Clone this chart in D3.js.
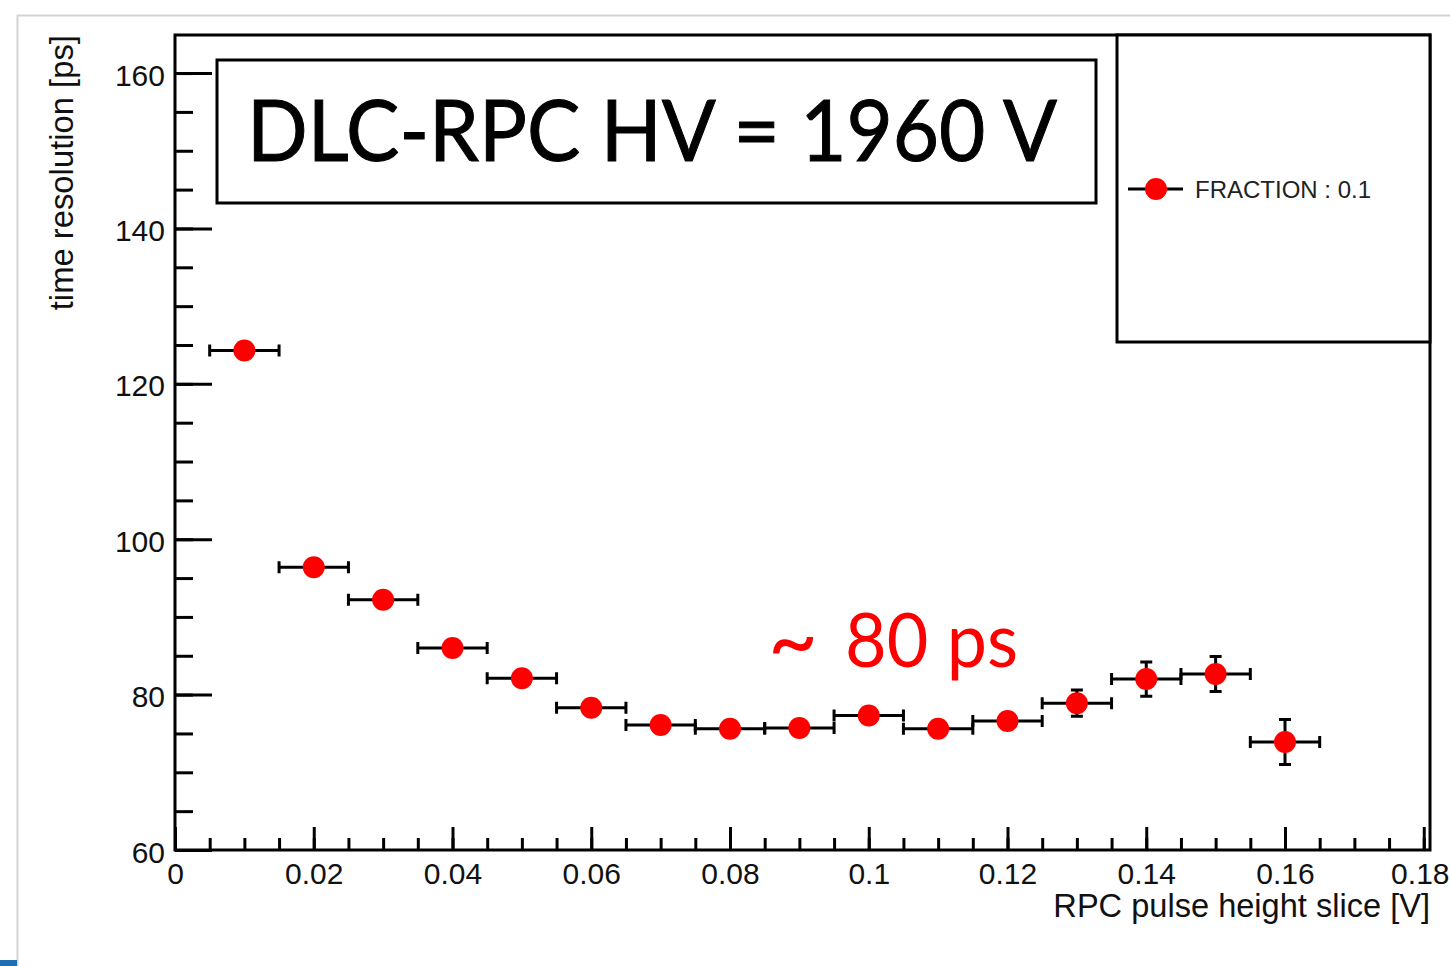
<!DOCTYPE html>
<html lang="en">
<head>
<meta charset="utf-8">
<title>DLC-RPC time resolution</title>
<script src="https://cdnjs.cloudflare.com/ajax/libs/d3/7.8.5/d3.min.js"></script>
<style>
	body { margin: 0; background: #fff; }
	svg { display: block; }
</style>
</head>
<body>
<script>

// pulse height slice centres [V]
var slices = [0.01, 0.02, 0.03, 0.04, 0.05, 0.06, 0.07, 0.08,
	0.09, 0.10, 0.11, 0.12, 0.13, 0.14, 0.15, 0.16];
// time resolution [ps]
var resolution = [124.3, 96.4, 92.2, 86.0, 82.1, 78.3, 76.1, 75.6,
	75.7, 77.3, 75.6, 76.6, 78.9, 82.0, 82.65, 73.9];
var resolutionErr = [0.9, 0.5, 0.5, 0.5, 0.6, 0.6, 0.7, 0.8,
	0.9, 1.0, 1.1, 1.2, 1.7, 2.2, 2.25, 2.9];
var sliceHalfWidth = 0.005;

var xTicks = [0, 0.02, 0.04, 0.06, 0.08, 0.1, 0.12, 0.14, 0.16, 0.18];
var yTicks = [60, 80, 100, 120, 140, 160];
var xMinorStep = 0.005;
var yMinorStep = 5;

var titleText = "DLC-RPC HV = 1960 V";
var noteTilde = "~";
var noteText = "80 ps";
var legendText = "FRACTION : 0.1";
var xTitle = "RPC pulse height slice [V]";
var yTitle = "time resolution [ps]";

var W = 1450, H = 966;
var frame = {left: 175, top: 35, right: 1430, bottom: 850};
var sans = "'Liberation Sans', Arial, Helvetica, sans-serif";
var calibriLike = "Lato, 'Open Sans', sans-serif";
var red = "#ff0000";

var svg = d3.select("body").append("svg")
	.attr("width", W)
	.attr("height", H);

// outer slide border
svg.append("path")
	.attr("d", "M17.5," + H + "V15.5H" + W)
	.style("fill", "none")
	.style("stroke", "#d3d3d3")
	.style("stroke-width", 2);
svg.append("rect")
	.attr("x", 0).attr("y", 960)
	.attr("width", 17).attr("height", 6)
	.style("fill", "#1f6cb0");

var x = d3.scaleLinear()
	.domain([0, 0.1809])
	.range([frame.left, frame.right]);

var y = d3.scaleLinear()
	.domain([60, 164.9])
	.range([frame.bottom, frame.top]);

function minorValues(lo, hi, step){
	var out = [];
	for(var v = lo; v <= hi + 1e-9; v += step){
		out.push(+v.toFixed(4));
	}
	return out;
}

// y axis, ticks inside the frame
var yMinorAxis = d3.axisLeft(y)
	.tickValues(minorValues(60, y.domain()[1], yMinorStep))
	.tickSizeInner(-18)
	.tickSizeOuter(0)
	.tickFormat("");
var yAxis = d3.axisLeft(y)
	.tickValues(yTicks)
	.tickSizeInner(-37)
	.tickSizeOuter(0)
	.tickPadding(10);

var xMinorAxis = d3.axisBottom(x)
	.tickValues(minorValues(0, 0.18, xMinorStep))
	.tickSizeInner(-12)
	.tickSizeOuter(0)
	.tickFormat("");
var xAxis = d3.axisBottom(x)
	.tickValues(xTicks)
	.tickSizeInner(-23)
	.tickSizeOuter(0)
	.tickPadding(13)
	.tickFormat(function(d){ return String(+d.toFixed(3)); });

[yMinorAxis, yAxis].forEach(function(ax){
	svg.append("g")
		.attr("class", "yax")
		.attr("transform", "translate(" + frame.left + ",0)")
		.call(ax);
});
[xMinorAxis, xAxis].forEach(function(ax){
	svg.append("g")
		.attr("class", "xax")
		.attr("transform", "translate(0," + frame.bottom + ")")
		.call(ax);
});

svg.selectAll(".domain").remove();
svg.selectAll(".tick line")
	.style("stroke", "#000")
	.style("stroke-width", 3);
svg.selectAll(".tick text")
	.style("font-family", sans)
	.style("font-size", "30px")
	.style("fill", "#111");
svg.selectAll(".yax .tick text").attr("dy", "0.4em");

// last x label sits against the right edge of the page
svg.selectAll(".xax .tick text")
	.filter(function(d){ return d === 0.18; })
	.attr("text-anchor", "end")
	.attr("x", W - 1 - x(0.18));

// frame
svg.append("rect")
	.attr("x", frame.left).attr("y", frame.top)
	.attr("width", frame.right - frame.left)
	.attr("height", frame.bottom - frame.top)
	.style("fill", "none")
	.style("stroke", "#000")
	.style("stroke-width", 3);

// axis titles
svg.append("text")
	.attr("x", frame.right)
	.attr("y", 917)
	.attr("text-anchor", "end")
	.style("font-family", sans)
	.style("font-size", "32.6px")
	.style("fill", "#111")
	.text(xTitle);

svg.append("text")
	.attr("transform", "translate(73," + frame.top + ") rotate(-90)")
	.attr("text-anchor", "end")
	.style("font-family", sans)
	.style("font-size", "32.8px")
	.style("fill", "#111")
	.text(yTitle);

// data points with error bars
var points = slices.map(function(s, i){
	return {x: s, y: resolution[i], ey: resolutionErr[i]};
});

var markerR = 11;
var capHalf = 6;

var pts = svg.append("g").selectAll("g")
	.data(points)
	.enter()
	.append("g");

pts.append("path")
	.attr("d", function(d){
		var cx = x(d.x), cy = y(d.y);
		var x0 = x(d.x - sliceHalfWidth), x1 = x(d.x + sliceHalfWidth);
		var p = "M" + x0 + "," + cy + "H" + x1 +
			"M" + x0 + "," + (cy - capHalf) + "V" + (cy + capHalf) +
			"M" + x1 + "," + (cy - capHalf) + "V" + (cy + capHalf);
		var y0 = y(d.y + d.ey), y1 = y(d.y - d.ey);
		if(cy - y0 > markerR){
			p += "M" + cx + "," + y0 + "V" + y1 +
				"M" + (cx - capHalf) + "," + y0 + "H" + (cx + capHalf) +
				"M" + (cx - capHalf) + "," + y1 + "H" + (cx + capHalf);
		}
		return p;
	})
	.style("fill", "none")
	.style("stroke", "#000")
	.style("stroke-width", 3);

pts.append("circle")
	.attr("cx", function(d){ return x(d.x); })
	.attr("cy", function(d){ return y(d.y); })
	.attr("r", markerR)
	.style("fill", red);

// legend
svg.append("rect")
	.attr("x", 1117).attr("y", frame.top)
	.attr("width", frame.right - 1117)
	.attr("height", 342 - frame.top)
	.style("fill", "#fff")
	.style("stroke", "#000")
	.style("stroke-width", 3);
svg.append("line")
	.attr("x1", 1128).attr("x2", 1183)
	.attr("y1", 189).attr("y2", 189)
	.style("stroke", "#000")
	.style("stroke-width", 3);
svg.append("circle")
	.attr("cx", 1156).attr("cy", 189)
	.attr("r", markerR)
	.style("fill", red);
svg.append("text")
	.attr("x", 1195).attr("y", 198)
	.style("font-family", sans)
	.style("font-size", "24px")
	.style("fill", "#222")
	.text(legendText);

// title box
svg.append("rect")
	.attr("x", 217).attr("y", 60)
	.attr("width", 1096 - 217)
	.attr("height", 203 - 60)
	.style("fill", "#fff")
	.style("stroke", "#000")
	.style("stroke-width", 3);
svg.append("text")
	.attr("x", 247).attr("y", 161)
	.attr("textLength", 810)
	.attr("lengthAdjust", "spacingAndGlyphs")
	.style("font-family", calibriLike)
	.style("font-size", "86px")
	.style("stroke", "#000")
	.style("stroke-width", 1)
	.style("fill", "#000")
	.text(titleText);

// annotation
svg.append("text")
	.attr("x", 768).attr("y", 672)
	.attr("textLength", 50)
	.attr("lengthAdjust", "spacingAndGlyphs")
	.style("font-family", calibriLike)
	.style("font-size", "92px")
	.style("fill", red)
	.text(noteTilde);
svg.append("text")
	.attr("x", 845).attr("y", 667)
	.attr("textLength", 173)
	.attr("lengthAdjust", "spacingAndGlyphs")
	.style("font-family", calibriLike)
	.style("font-size", "76px")
	.style("fill", red)
	.text(noteText);

</script>
</body>
</html>
